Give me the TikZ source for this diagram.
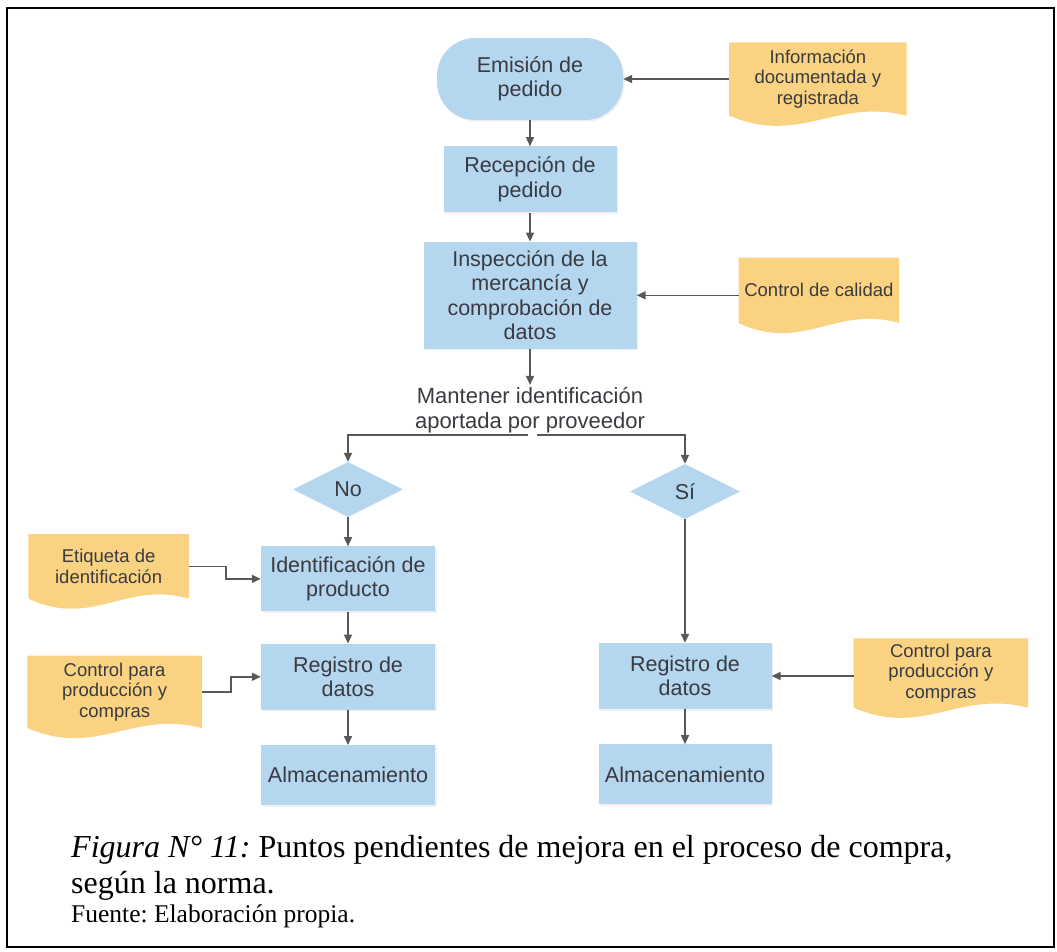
\documentclass[tikz,border=0pt]{standalone}
\usepackage{fontspec}
\setmainfont{Liberation Sans}
\newfontfamily\capfont{Liberation Serif}
\usetikzlibrary{positioning,arrows.meta,calc,backgrounds,shapes.geometric,shadows}
\definecolor{boxblue}{RGB}{180,214,238}
\definecolor{docyellow}{RGB}{250,211,130}
\definecolor{txtgray}{RGB}{58,58,64}
\definecolor{lngray}{RGB}{88,88,88}
\tikzset{
  proc/.style={draw=none,fill=boxblue,text=txtgray,align=center,inner sep=0pt,font=\fontsize{21.5}{24.5}\selectfont,
    drop shadow={shadow xshift=1.5pt,shadow yshift=-1.5pt,opacity=0.12}},
  choice/.style={diamond,fill=boxblue,text=txtgray,inner sep=0pt,minimum width=110pt,minimum height=55pt,font=\fontsize{21.5}{24.5}\selectfont},
  docu/.style={text=txtgray,align=center,inner sep=0pt,font=\fontsize{18.5}{20.5}\selectfont},
  arr/.style={-{Triangle[length=9pt,width=8pt]},draw=lngray,line width=1.5pt},
  captxt/.style={anchor=base west,inner sep=0pt,font=\capfont\frenchspacing\fontsize{32}{37}\selectfont}
}

\begin{document}
\begin{tikzpicture}[x=1pt,y=-1pt]
\useasboundingbox (0,0) rectangle (1057,951);
\draw[line width=1.8pt] (7,8) rectangle (1054,947);

% main column
\node[proc,rounded corners=38pt,minimum width=186pt,minimum height=82pt] (emision) at (530,79) {Emisión de\\pedido};
\node[proc,minimum width=173pt,minimum height=66pt,below=26pt of emision] (recep) {Recepción de\\pedido};
\node[proc,minimum width=213pt,minimum height=107pt,below=29pt of recep] (insp) {Inspección de la\\mercancía y\\comprobación de\\datos};
\node[text=txtgray,align=center,inner sep=2pt,font=\fontsize{22}{25}\selectfont] (mant) at (530,410) {Mantener identificación\\aportada por proveedor};

% branches
\node[choice] (no) at (348,489.5) {No};
\node[choice] (si) at (685,491.5) {Sí};
\node[proc,minimum width=174pt,minimum height=65pt,below=29pt of no] (ident) {Identificación de\\producto};
\node[proc,minimum width=174pt,minimum height=66pt,below=32pt of ident] (regA) {Registro de\\datos};
\node[proc,minimum width=174pt,minimum height=60pt,below=35pt of regA] (almA) {Almacenamiento};
\node[proc,minimum width=173pt,minimum height=66pt] (regB) at (685,676) {Registro de\\datos};
\node[proc,minimum width=173pt,minimum height=60pt,below=35pt of regB] (almB) {Almacenamiento};

% documents
\node[docu,minimum width=177pt,minimum height=73pt,right=106pt of emision] (info) {Información\\documentada y\\registrada};
\node[docu,minimum width=160pt,minimum height=65pt,right=102pt of insp,yshift=5pt] (calidad) {Control de calidad};
\node[docu,minimum width=160pt,minimum height=64pt,left=72pt of ident,yshift=12.5pt] (etiq) {Etiqueta de\\identificación};
\node[docu,minimum width=174pt,minimum height=72pt,left=59pt of regA,yshift=-15pt] (ctrlA) {Control para\\producción y\\compras};
\node[docu,minimum width=174pt,minimum height=69pt,right=82pt of regB,yshift=3pt] (ctrlB) {Control para\\producción y\\compras};

\begin{scope}[on background layer]
\foreach \d in {info,calidad,etiq,ctrlA,ctrlB}
  \fill[docyellow] (\d.north west) -- (\d.north east) -- (\d.south east)
    .. controls ($(\d.south east)!0.4!(\d.south west)+(0,-18)$) and ($(\d.south east)!0.6!(\d.south west)+(0,30)$) .. (\d.south west) -- cycle;
\end{scope}

% connectors
\draw[arr] (info) -- (emision);
\draw[arr] (emision) -- (recep);
\draw[arr] (recep) -- (insp);
\draw[arr] (calidad.west |- insp) -- (insp);
\draw[arr] (insp) -- (mant);
\draw[arr] ([xshift=-2pt]mant.south) -| (no);
\draw[arr] ([xshift=7pt]mant.south) -| (si);
\draw[arr] (no) -- (ident);
\draw[arr] (etiq.east) -- ++(37,0) |- (ident);
\draw[arr] (ident) -- (regA);
\draw[arr] (ctrlA.east) -- ++(29,0) |- (regA);
\draw[arr] (regA) -- (almA);
\draw[arr] (si) -- (regB);
\draw[arr] (ctrlB.west |- regB) -- (regB);
\draw[arr] (regB) -- (almB);

% caption
\node[captxt] (cap1) at (71,857) {\textit{Figura N° 11:} Puntos pendientes de mejora en el proceso de compra,};
\node[captxt] (cap2) at (71,893) {según la norma.};
\node[captxt,font=\capfont\frenchspacing\fontsize{25.5}{30}\selectfont] (fuente) at (71,922) {Fuente: Elaboración propia.};
\end{tikzpicture}
\end{document}
